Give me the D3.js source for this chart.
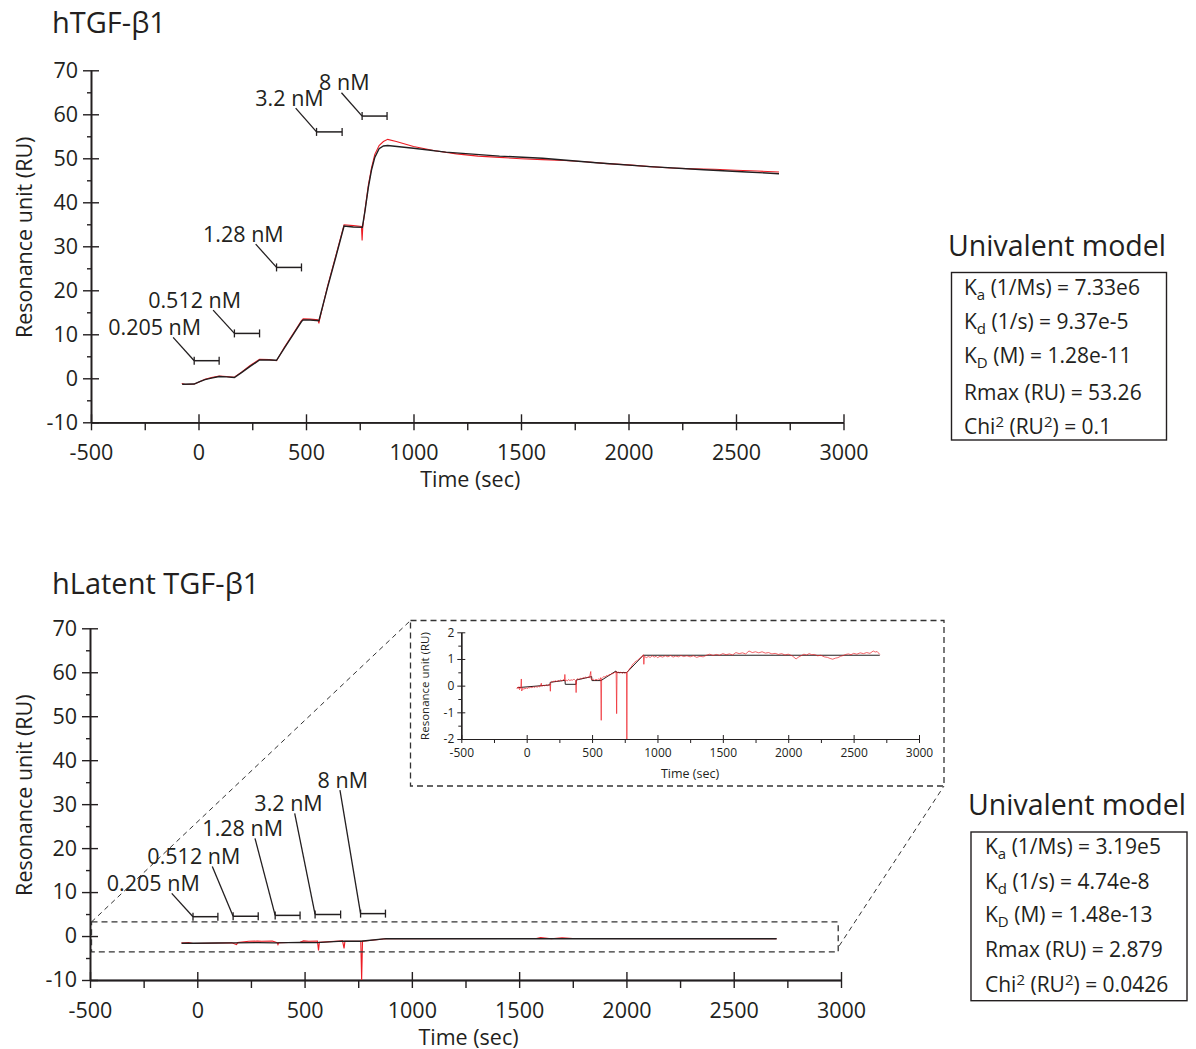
<!DOCTYPE html>
<html><head><meta charset="utf-8">
<script src="https://cdn.jsdelivr.net/npm/d3@7"></script>
<style>
body{margin:0;background:#fff;}
svg{display:block;font-family:"Open Sans",sans-serif;}
text{fill:#231f20;}
</style></head><body>
<svg id="chart" width="1196" height="1049"></svg>
<script>
// ---------------- data ----------------
const xTicks = [-500, 0, 500, 1000, 1500, 2000, 2500, 3000];
const xMinorTicks = [-250, 250, 750, 1250, 1750, 2250, 2750];
const yTicks = [-10, 0, 10, 20, 30, 40, 50, 60, 70];
const yMinorTicks = [-5, 5, 15, 25, 35, 45, 55, 65];
const insetYTicks = [-2, -1, 0, 1, 2];
const insetYMinorTicks = [-1.5, -0.5, 0.5, 1.5];

const panelTitles = ["hTGF-\u03B21", "hLatent TGF-\u03B21"];
const concLabels = ["0.205 nM", "0.512 nM", "1.28 nM", "3.2 nM", "8 nM"];
const injStart = [-20, 167, 363, 549, 761];
const injEnd = [96, 284, 479, 668, 877];
const barTopRU = [4.0, 10.2, 25.2, 56.0, 59.6];
const leaderTopT = [-118, 68, 266, 452, 665];
const leaderTopRU = [9.3, 15.5, 30.5, 61.4, 64.9];
const barBottomRU = [4.4, 4.5, 4.7, 4.9, 5.1];
const leaderBottomT = [-119, 70, 269, 454, 665];
const leaderBottomRU = [9.7, 15.8, 22.2, 27.9, 33.2];

// hTGF-b1 fit (black) and measured (red): [time s, RU]
const fitTop = [[-76,-1.36],[-20,-1.3],[0,-0.85],[30,-0.3],[60,0.05],[96,0.4],[130,0.32],[167,0.18],[200,1.3],[240,2.7],[284,4.15],[330,4.15],[363,4.1],[400,6.9],[440,9.9],[479,12.9],[487,13.25],[520,13.25],[560,13.1],[600,20.6],[640,27.8],[677,34.6],[720,34.4],[762,34.3],[775,38.2],[790,43.4],[805,47.4],[820,50.2],[840,52.2],[860,52.8],[880,52.9],[1000,52.3],[1150,51.4],[1400,50.5],[1600,50.0],[1850,49.0],[2100,48.1],[2350,47.4],[2550,46.9],[2700,46.5]];
const dataTop = [[-78,-1.2],[-60,-1.4],[-20,-1.3],[0,-0.9],[30,-0.2],[60,0.15],[96,0.5],[130,0.4],[167,0.2],[170,0.4],[200,1.4],[240,2.9],[284,4.3],[330,4.25],[363,4.0],[400,7.1],[440,10.1],[479,13.1],[487,13.5],[520,13.45],[556,13.3],[560,12.5],[563,13.3],[600,20.9],[640,28.1],[677,34.9],[720,34.7],[758,34.5],[761,31.3],[764,34.4],[775,38.5],[790,43.9],[805,47.9],[820,50.9],[840,52.9],[860,53.8],[880,54.3],[920,53.8],[1000,52.7],[1100,51.7],[1200,51.0],[1300,50.5],[1400,50.2],[1500,49.9],[1600,49.7],[1700,49.5],[1800,49.2],[1900,48.8],[2000,48.5],[2100,48.1],[2200,47.8],[2300,47.6],[2400,47.5],[2500,47.3],[2600,47.1],[2700,46.9]];

// hLatent TGF-b1 main panel
const fitBottom = [[-73,-1.65],[-20,-1.65],[96,-1.6],[167,-1.55],[284,-1.5],[363,-1.55],[479,-1.45],[556,-1.5],[677,-1.15],[762,-1.2],[880,-0.6],[2700,-0.6]];
const dataBottom = [[-75,-1.6],[-40,-1.5],[-20,-1.7],[100,-1.6],[160,-1.55],[183,-1.95],[188,-1.5],[240,-1.2],[280,-1.15],[300,-1.2],[350,-1.15],[372,-1.5],[376,-1.95],[380,-1.5],[479,-1.4],[495,-1.1],[520,-1.2],[560,-1.15],[565,-3.3],[569,-1.4],[677,-1.1],[684,-2.8],[688,-1.2],[762,-1.2],[766,-10],[770,-1.2],[880,-0.6],[1580,-0.55],[1600,-0.35],[1650,-0.6],[1700,-0.4],[1750,-0.55],[2700,-0.6]];

// inset (zoom of the hLatent panel)
const fitInset = [[-71,-0.075],[178,0.025],[180,0.125],[293,0.2],[295,0.05],[377,0.05],[379,0.21],[497,0.34],[499,0.19],[568,0.19],[683,0.55],[688,0.49],[765,0.49],[892,1.14],[2700,1.14]];
const dataInset = [[-75,-0.12],[-70,-0.06],[-65,-0.1],[-60,-0.04],[-55,-0.15],[-50,-0.09],[-45,-0.08],[-41,0.25],[-38,-0.2],[-30,-0.1],[-22,-0.14],[-15,-0.08],[-7,-0.12],[0,-0.08],[8,-0.11],[15,-0.06],[22,-0.09],[30,-0.05],[40,-0.08],[50,-0.04],[60,-0.07],[70,-0.03],[80,-0.06],[90,-0.02],[100,-0.05],[112,0.09],[115,-0.02],[128,0.01],[140,-0.01],[150,0.03],[160,0.0],[170,0.04],[178,0.05],[181,-0.21],[184,0.12],[192,0.16],[200,0.13],[208,0.18],[215,0.15],[222,0.19],[230,0.14],[240,0.2],[250,0.17],[260,0.21],[270,0.17],[280,0.23],[288,0.2],[292,0.42],[296,0.16],[305,0.21],[312,0.18],[320,0.23],[330,0.19],[340,0.22],[350,0.2],[360,0.25],[368,0.21],[375,0.18],[378,-0.26],[381,0.22],[390,0.26],[400,0.23],[410,0.28],[420,0.25],[430,0.3],[440,0.28],[450,0.32],[460,0.29],[470,0.33],[480,0.3],[490,0.53],[493,0.25],[500,0.21],[510,0.24],[520,0.2],[530,0.24],[540,0.21],[550,0.25],[558,0.22],[566,0.3],[570,-1.3],[573,0.26],[580,0.3],[590,0.34],[600,0.32],[610,0.38],[620,0.36],[630,0.42],[640,0.4],[650,0.46],[660,0.44],[670,0.5],[677,0.48],[684,0.53],[688,-1.05],[691,0.48],[700,0.52],[710,0.47],[720,0.51],[730,0.46],[740,0.5],[750,0.47],[763,0.5],[766,-2.0],[769,0.5],[780,0.58],[790,0.66],[800,0.7],[810,0.8],[820,0.83],[830,0.9],[840,0.92],[850,0.97],[860,1.0],[870,1.06],[880,1.08],[892,1.16],[896,0.8],[900,1.1],[915,1.05],[930,1.09],[945,1.06],[960,1.12],[975,1.07],[990,1.1],[1000,1.05],[1020,1.1],[1040,1.07],[1060,1.12],[1080,1.08],[1100,1.13],[1120,1.07],[1140,1.11],[1160,1.08],[1180,1.13],[1200,1.09],[1225,1.12],[1250,1.08],[1275,1.12],[1300,1.06],[1325,1.1],[1350,1.08],[1375,1.14],[1400,1.18],[1425,1.13],[1450,1.17],[1475,1.14],[1500,1.2],[1525,1.16],[1550,1.19],[1575,1.15],[1600,1.24],[1625,1.2],[1650,1.23],[1675,1.19],[1700,1.3],[1725,1.24],[1750,1.27],[1775,1.23],[1800,1.27],[1825,1.22],[1850,1.24],[1875,1.19],[1900,1.21],[1925,1.17],[1950,1.2],[1975,1.15],[2000,1.18],[2030,1.12],[2060,1.0],[2075,1.06],[2090,1.1],[2105,1.14],[2120,1.18],[2140,1.15],[2160,1.2],[2180,1.16],[2200,1.17],[2225,1.12],[2250,1.14],[2275,1.08],[2300,1.06],[2320,1.02],[2340,0.99],[2360,1.03],[2380,1.05],[2400,1.1],[2420,1.13],[2440,1.17],[2460,1.19],[2480,1.16],[2500,1.21],[2525,1.18],[2550,1.23],[2575,1.2],[2600,1.24],[2625,1.21],[2650,1.3],[2665,1.26],[2680,1.28],[2700,1.17]];

// zoomed region of the lower panel (time, RU)
const zoomT = [-493, 2987];
const zoomRU = [-3.6, 3.2];

// kinetic model parameters
const modelTitle = "Univalent model";
const modelTop = ["7.33e6", "9.37e-5", "1.28e-11", "53.26", "0.1"];
const modelBottom = ["3.19e5", "4.74e-8", "1.48e-13", "2.879", "0.0426"];

// ---------------- drawing ----------------
const INK = "#231f20", RED = "#ed1c24";
const svg = d3.select("#chart");

function drawAxes(g, x, y, o) {
  const y0 = y.range()[0], x0 = x.range()[0];
  const ax = [];
  ax.push(g.append("g").attr("transform", `translate(0,${y0})`)
    .call(d3.axisBottom(x).tickValues(xTicks).tickSize(o.tk).tickSizeOuter(0).tickPadding(o.xpad).tickFormat(d => String(d))));
  ax.push(g.append("g").attr("transform", `translate(0,${y0})`)
    .call(d3.axisTop(x).tickValues(xTicks).tickSize(o.tk).tickSizeOuter(0).tickFormat("")));
  ax.push(g.append("g").attr("transform", `translate(0,${y0})`)
    .call(d3.axisBottom(x).tickValues(xMinorTicks).tickSize(o.mtx).tickSizeOuter(0).tickFormat("")));
  ax.push(g.append("g").attr("transform", `translate(${x0},0)`)
    .call(d3.axisLeft(y).tickValues(o.yt).tickSize(o.tk).tickSizeOuter(0).tickPadding(o.ypad).tickFormat(d => String(d))));
  ax.push(g.append("g").attr("transform", `translate(${x0},0)`)
    .call(d3.axisRight(y).tickValues(o.yt).tickSize(o.tk).tickSizeOuter(0).tickFormat("")));
  ax.push(g.append("g").attr("transform", `translate(${x0},0)`)
    .call(d3.axisLeft(y).tickValues(o.ymt).tickSize(o.mty).tickSizeOuter(0).tickFormat("")));
  ax.forEach(a => {
    a.selectAll(".domain").attr("stroke", INK).attr("stroke-width", o.sw);
    a.selectAll(".tick line").attr("stroke", INK).attr("stroke-width", o.sw);
    a.selectAll(".tick text").attr("fill", INK).style("font-size", o.fs + "px").style("font-family", '"Open Sans",sans-serif');
  });
}

function drawPanel(o) {
  const g = svg.append("g");
  const x = d3.scaleLinear().domain([-500, 3000]).range(o.xr);
  const y = d3.scaleLinear().domain([-10, 70]).range(o.yr);
  drawAxes(g, x, y, {tk: 8, mtx: 8, mty: 4, xpad: 14.5, ypad: 5, fs: 21.5, sw: 1.4, yt: yTicks, ymt: yMinorTicks});
  g.append("text").attr("x", 52).attr("y", o.titleY).style("font-size", "29px").text(o.title);
  g.append("text").attr("x", (o.xr[0] + o.xr[1]) / 2 + 3).attr("y", o.yr[0] + 64.5)
    .attr("text-anchor", "middle").style("font-size", "21.5px").text("Time (sec)");
  g.append("text").attr("transform", `translate(31.5,${(o.yr[0] + o.yr[1]) / 2 - 9}) rotate(-90)`)
    .attr("text-anchor", "middle").style("font-size", "21.5px").text("Resonance unit (RU)");

  const line = d3.line().x(d => x(d[0])).y(d => y(d[1]));
  const clip = "clip" + o.id;
  g.append("clipPath").attr("id", clip).append("rect")
    .attr("x", o.xr[0]).attr("y", o.yr[1] - 10).attr("width", o.xr[1] - o.xr[0]).attr("height", o.yr[0] - o.yr[1] + 10);
  const pg = g.append("g").attr("clip-path", `url(#${clip})`);
  pg.append("path").datum(o.data).attr("d", line).attr("fill", "none").attr("stroke", RED).attr("stroke-width", 1.1);
  pg.append("path").datum(o.fit).attr("d", line).attr("fill", "none").attr("stroke", INK).attr("stroke-width", 1.4);

  // injection bars with leaders and labels
  concLabels.forEach((lab, i) => {
    const bx0 = x(injStart[i]), bx1 = x(injEnd[i]), by = y(o.bars[i]);
    const lx = x(o.lt[i]), ly = y(o.lv[i]);
    g.append("line").attr("x1", bx0).attr("x2", bx1).attr("y1", by).attr("y2", by).attr("stroke", INK).attr("stroke-width", 1.5);
    [bx0, bx1].forEach(bx => g.append("line").attr("x1", bx).attr("x2", bx).attr("y1", by - 4).attr("y2", by + 4).attr("stroke", INK).attr("stroke-width", 1.3));
    g.append("line").attr("x1", lx).attr("y1", ly).attr("x2", bx0).attr("y2", by).attr("stroke", INK).attr("stroke-width", 1.3);
    g.append("text").attr("x", lx + 28).attr("y", ly - 2.5).attr("text-anchor", "end").style("font-size", "21.5px").text(lab);
  });
  return {x, y, g};
}

const panelTop = drawPanel({id: "t", xr: [91, 843.5], yr: [422.3, 70.3], title: panelTitles[0], titleY: 33,
  data: dataTop, fit: fitTop, bars: barTopRU, lt: leaderTopT, lv: leaderTopRU});
const panelBot = drawPanel({id: "b", xr: [90, 841], yr: [980, 628.3], title: panelTitles[1], titleY: 594,
  data: dataBottom, fit: fitBottom, bars: barBottomRU, lt: leaderBottomT, lv: leaderBottomRU});

// zoom rectangle + connectors
const zx0 = panelBot.x(zoomT[0]), zx1 = panelBot.x(zoomT[1]), zy0 = panelBot.y(zoomRU[1]), zy1 = panelBot.y(zoomRU[0]);
svg.append("rect").attr("x", zx0).attr("y", zy0).attr("width", zx1 - zx0).attr("height", zy1 - zy0)
  .attr("fill", "none").attr("stroke", "#333").attr("stroke-width", 1.3).attr("stroke-dasharray", "6,4");

// inset
const ix = d3.scaleLinear().domain([-500, 3000]).range([461.3, 919]);
const iy = d3.scaleLinear().domain([-2, 2]).range([739, 632.3]);
const ibox = {x0: 410.5, y0: 620.5, x1: 944, y1: 786};
svg.append("rect").attr("x", ibox.x0).attr("y", ibox.y0).attr("width", ibox.x1 - ibox.x0).attr("height", ibox.y1 - ibox.y0)
  .attr("fill", "#fff").attr("stroke", "#333").attr("stroke-width", 1.3).attr("stroke-dasharray", "6,4");
svg.append("line").attr("x1", zx0).attr("y1", zy0).attr("x2", ibox.x0).attr("y2", ibox.y0)
  .attr("stroke", "#333").attr("stroke-width", 1).attr("stroke-dasharray", "5,4");
svg.append("line").attr("x1", zx1 + 1).attr("y1", zy1 - 6).attr("x2", ibox.x1).attr("y2", ibox.y1)
  .attr("stroke", "#333").attr("stroke-width", 1).attr("stroke-dasharray", "5,4");

const ig = svg.append("g");
drawAxes(ig, ix, iy, {tk: 4, mtx: 4, mty: 3, xpad: 5, ypad: 3, fs: 12, sw: 1, yt: insetYTicks, ymt: insetYMinorTicks});
ig.append("text").attr("x", 690).attr("y", 778).attr("text-anchor", "middle").style("font-size", "12.5px").text("Time (sec)");
ig.append("text").attr("transform", `translate(429,${686}) rotate(-90)`).attr("text-anchor", "middle").style("font-size", "11.5px").text("Resonance unit (RU)");
const iline = d3.line().x(d => ix(d[0])).y(d => iy(d[1]));
ig.append("path").datum(fitInset).attr("d", iline).attr("fill", "none").attr("stroke", INK).attr("stroke-width", 1);
ig.append("path").datum(dataInset).attr("d", iline).attr("fill", "none").attr("stroke", RED).attr("stroke-width", 0.8).attr("opacity", 0.85);

// model boxes
function modelBox(o, vals) {
  const g = svg.append("g");
  g.append("text").attr("x", o.tx).attr("y", o.ty).style("font-size", "28.5px").text(modelTitle);
  g.append("rect").attr("x", o.x0).attr("y", o.y0).attr("width", o.x1 - o.x0).attr("height", o.y1 - o.y0)
    .attr("fill", "none").attr("stroke", INK).attr("stroke-width", 1.4);
  const rows = [
    [["K", 0], ["a", 1], [" (1/Ms) = " + vals[0], 0]],
    [["K", 0], ["d", 1], [" (1/s) = " + vals[1], 0]],
    [["K", 0], ["D", 1], [" (M) = " + vals[2], 0]],
    [["Rmax (RU) = " + vals[3], 0]],
    [["Chi", 0], ["2", 2], [" (RU", 0], ["2", 2], [") = " + vals[4], 0]]
  ];
  rows.forEach((r, i) => {
    const t = g.append("text").attr("x", o.lx).attr("y", o.base[i]).style("font-size", "21px");
    let cur = 0;
    r.forEach(([s, k]) => {
      const target = k === 1 ? 5 : k === 2 ? -7 : 0;
      t.append("tspan").attr("dy", target - cur).style("font-size", k ? "15px" : "21px").text(s);
      cur = target;
    });
  });
}
modelBox({tx: 948, ty: 256, x0: 951.5, y0: 272.5, x1: 1166.5, y1: 440, lx: 964, base: [295, 329, 363, 400, 434]}, modelTop);
modelBox({tx: 968, ty: 815, x0: 971, y0: 832, x1: 1187, y1: 1000.7, lx: 985, base: [854, 888.5, 922, 957, 992]}, modelBottom);
</script></body></html>
